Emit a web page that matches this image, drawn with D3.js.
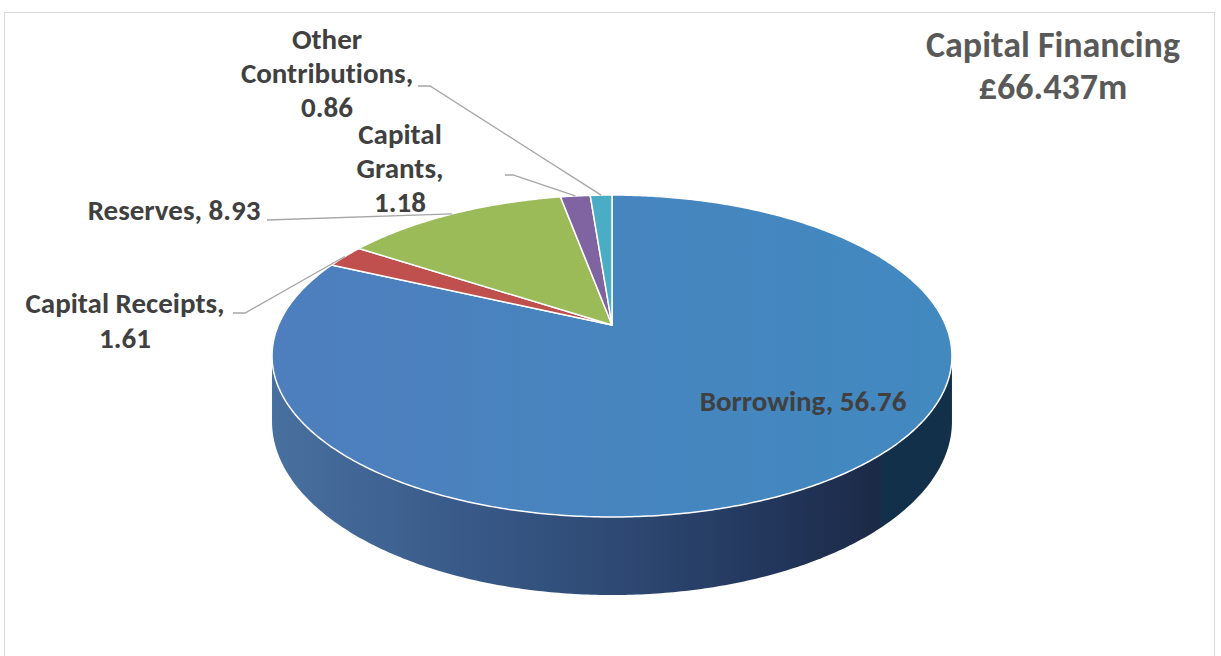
<!DOCTYPE html>
<html>
<head>
<meta charset="utf-8">
<title>Capital Financing</title>
<style>
  body { margin: 0; background: #fff; }
  svg text { font-family: Carlito, Calibri, "Open Sans", sans-serif; font-weight: bold; font-variant-ligatures: none; }
</style>
</head>
<body>
<svg width="1221" height="656"></svg>
<script src="https://cdn.jsdelivr.net/npm/d3@7/dist/d3.min.js"></script>
<script>
  // data
  var categories = ["Borrowing", "Capital Receipts", "Reserves", "Capital Grants", "Other Contributions"];
  var values = [56.76, 1.61, 8.93, 1.18, 0.86];
  var colors = ["#4a84bf", "#c0504d", "#9bbb59", "#8064a2", "#4bacc6"];
  var titleLines = ["Capital Financing", "£66.437m"];

  // label layout: wrap 0 = one line, 1 = name / value, 2 = word per line
  var labelLayout = [
    { x: 803, y: 411, wrap: 0, lh: 0, leader: null },
    { x: 125, y: 313, wrap: 1, lh: 35, leader: [[233, 313], [245, 313]] },
    { x: 174, y: 220, wrap: 0, lh: 0, leader: [[267, 220]] },
    { x: 400, y: 144, wrap: 2, lh: 34, leader: [[505, 175], [513, 175]] },
    { x: 327, y: 49, wrap: 2, lh: 34, leader: [[418, 86], [430, 86]] }
  ];

  var svg = d3.select("svg");

  // chart border
  svg.append("rect")
    .attr("x", 4.5).attr("y", 12.5)
    .attr("width", 1210).attr("height", 700)
    .attr("fill", "none")
    .attr("stroke", "#d9d9d9");

  // 3d projection of the disc (perspective tilt)
  var cx = 612, cy = 325;
  var a = 333.6, b = 155, k = 0.1926, H = 63;

  function proj(theta, r, h) {
    var X = r * Math.sin(theta), Z = -r * Math.cos(theta);
    var d = 1 - k * Z;
    return [cx + a * X / d, cy + (b * Z + H * h) / d];
  }

  function arcPoints(t0, t1, r, h) {
    var n = Math.max(2, Math.ceil(Math.abs(t1 - t0) / 0.01));
    return d3.range(n + 1).map(function (i) { return proj(t0 + (t1 - t0) * i / n, r, h); });
  }

  var pie = d3.pie().sort(null).startAngle(0).endAngle(2 * Math.PI);
  var arcs = pie(values);

  var line = d3.line();
  var defs = svg.append("defs");

  // side wall gradient
  var tS = Math.acos(-k);
  var left = proj(2 * Math.PI - tS, 1, 0), right = proj(tS, 1, 0);
  var sideGrad = defs.append("linearGradient")
    .attr("id", "side")
    .attr("gradientUnits", "userSpaceOnUse")
    .attr("x1", left[0]).attr("x2", right[0])
    .attr("y1", 0).attr("y2", 0);
  [[0, "#48709f"], [0.25, "#3a5c8b"], [0.5, "#2e4a74"], [0.75, "#22355a"],
   [0.89, "#1c2a47"], [0.9, "#13304a"], [1, "#12304a"]].forEach(function (s) {
    sideGrad.append("stop").attr("offset", s[0]).attr("stop-color", s[1]);
  });

  var topGrad = defs.append("linearGradient")
    .attr("id", "topface")
    .attr("gradientUnits", "userSpaceOnUse")
    .attr("x1", left[0]).attr("x2", right[0])
    .attr("y1", 0).attr("y2", 0);
  topGrad.append("stop").attr("offset", 0).attr("stop-color", "#4e7ebd");
  topGrad.append("stop").attr("offset", 0.5).attr("stop-color", "#4785bf");
  topGrad.append("stop").attr("offset", 1).attr("stop-color", "#4289c0");

  // side wall (front half only is visible)
  var sidePts = arcPoints(tS, 2 * Math.PI - tS, 1, 0)
    .concat(arcPoints(2 * Math.PI - tS, tS, 1, 1));
  svg.append("path")
    .attr("d", line(sidePts) + "Z")
    .attr("fill", "url(#side)");

  // top face slices
  svg.append("g")
    .selectAll("path")
    .data(arcs)
    .enter().append("path")
    .attr("d", function (d) {
      var pts = [[cx, cy]].concat(arcPoints(d.startAngle, d.endAngle, 1, 0));
      return line(pts) + "Z";
    })
    .attr("fill", function (d, i) { return i === 0 ? "url(#topface)" : colors[i]; })
    .attr("stroke", "#fff")
    .attr("stroke-width", 1.5)
    .attr("stroke-linejoin", "round");

  // labels
  function labelLines(i) {
    var v = values[i].toFixed(2), w = labelLayout[i].wrap;
    if (w === 0) return [categories[i] + ", " + v];
    if (w === 1) return [categories[i] + ",", v];
    var words = categories[i].split(" ");
    words[words.length - 1] += ",";
    return words.concat([v]);
  }

  var labels = svg.append("g");
  arcs.forEach(function (d, i) {
    var L = labelLayout[i];
    if (L.leader) {
      var mid = (d.startAngle + d.endAngle) / 2;
      var pts = L.leader.concat([proj(mid, 1, 0)]);
      labels.append("path")
        .attr("d", line(pts))
        .attr("fill", "none")
        .attr("stroke", "#a6a6a6")
        .attr("stroke-width", 1.3);
    }
    labelLines(i).forEach(function (t, j) {
      labels.append("text")
        .attr("x", L.x)
        .attr("y", L.y + j * L.lh)
        .attr("text-anchor", "middle")
        .attr("fill", "#404040")
        .style("font-size", "29px")
        .text(t);
    });
  });

  // title
  svg.append("g")
    .selectAll("text")
    .data(titleLines)
    .enter().append("text")
    .attr("x", 1053)
    .attr("y", function (d, i) { return 57 + i * 42; })
    .attr("text-anchor", "middle")
    .attr("fill", "#595959")
    .style("font-size", "36px")
    .text(function (d) { return d; });
</script>
</body>
</html>
